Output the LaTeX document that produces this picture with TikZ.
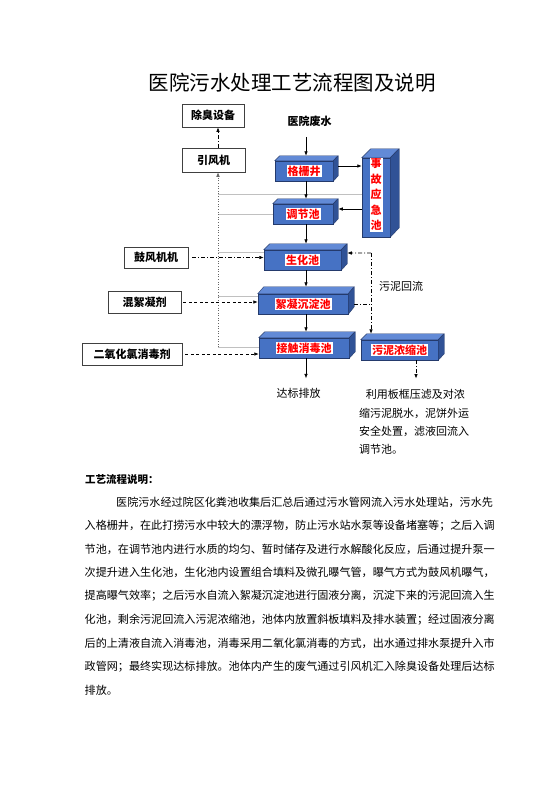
\documentclass[tikz,border=0pt]{standalone}
\usepackage{fontspec}
\setmainfont{Noto Sans CJK SC}
\usetikzlibrary{arrows.meta}
\definecolor{tankblue}{RGB}{70,114,196}
\definecolor{tankhi}{RGB}{98,138,214}
\definecolor{tankdark}{RGB}{48,82,150}
\definecolor{tankline}{RGB}{36,58,108}
\definecolor{ductgray}{RGB}{192,192,192}
\begin{document}
\begin{tikzpicture}[x=1bp,y=-1bp,>={Latex[length=4.5bp,width=3.6bp]},
  every node/.style={font=\fontsize{11bp}{13bp}\selectfont},
  tank/.style={draw=tankline, fill=tankblue, line width=0.5bp, minimum height=20bp, inner sep=0},
  tanktop/.style={draw=tankline, fill=tankhi, line width=0.4bp},
  tankside/.style={draw=tankline, fill=tankdark, line width=0.4bp},
  tanklbl/.style={fill=white, text=red, inner sep=1bp, font=\fontsize{11bp}{13bp}\selectfont\bfseries},
  feed/.style={draw=black!75, fill=white, line width=0.6bp, inner sep=0, font=\fontsize{11bp}{13bp}\selectfont\bfseries},
  para/.style={anchor=west, inner sep=0, font=\fontsize{11.08bp}{13bp}\selectfont},
  flow/.style={->, line width=0.7bp},
  air/.style={->, line width=0.7bp, dash pattern=on 4bp off 2bp on 1bp off 2bp},
  dose/.style={->, line width=0.7bp, dash pattern=on 3bp off 2.5bp},
  gas/.style={draw=ductgray, line width=0.8bp},
  duct/.style={->, draw=black!60, line width=0.6bp, dotted}]

  \path[use as bounding box, fill=white] (0,0) rectangle (560,792);

  % Title
  \node[font=\fontsize{20.5bp}{24bp}\selectfont] (head) at (292,83) {医院污水处理工艺流程图及说明};

  % Treatment tanks (front faces)
  \node[tank, minimum width=58bp, label={[tanklbl]center:格栅井}] (grille) at (304,171) {};
  \node[tank, minimum width=60bp, label={[tanklbl]center:调节池}] (equal) at (303,214) {};
  \node[tank, minimum width=77bp, label={[tanklbl]center:生化池}] (bio) at (302.5,260) {};
  \node[tank, minimum width=90bp, label={[tanklbl]center:絮凝沉淀池}] (floc) at (303,304) {};
  \node[tank, minimum width=90bp, label={[tanklbl]center:接触消毒池}] (disinf) at (304,348) {};
  \node[tank, minimum width=77bp, label={[tanklbl]center:污泥浓缩池}] (sludge) at (399.5,350) {};
  \node[tank, minimum width=28bp, minimum height=79bp,
        label={[tanklbl, align=center, yshift=3bp, font=\fontsize{11bp}{15.5bp}\selectfont\bfseries]center:事\\故\\应\\急\\池}] (emerg) at (376,197.5) {};

  % Top and side faces
  \filldraw[tanktop] (grille.north west) -- ++(5,-5) -- ++(58,0) -- (grille.north east) -- cycle;
  \filldraw[tankside] (grille.north east) -- ++(5,-5) -- ++(0,20) -- (grille.south east) -- cycle;
  \filldraw[tanktop] (equal.north west) -- ++(5,-5) -- ++(60,0) -- (equal.north east) -- cycle;
  \filldraw[tankside] (equal.north east) -- ++(5,-5) -- ++(0,20) -- (equal.south east) -- cycle;
  \filldraw[tanktop] (bio.north west) -- ++(6,-6) -- ++(77,0) -- (bio.north east) -- cycle;
  \filldraw[tankside] (bio.north east) -- ++(6,-6) -- ++(0,20) -- (bio.south east) -- cycle;
  \filldraw[tanktop] (floc.north west) -- ++(6,-7) -- ++(90,0) -- (floc.north east) -- cycle;
  \filldraw[tankside] (floc.north east) -- ++(6,-7) -- ++(0,20) -- (floc.south east) -- cycle;
  \filldraw[tanktop] (disinf.north west) -- ++(6,-6) -- ++(90,0) -- (disinf.north east) -- cycle;
  \filldraw[tankside] (disinf.north east) -- ++(6,-6) -- ++(0,20) -- (disinf.south east) -- cycle;
  \filldraw[tanktop] (sludge.north west) -- ++(6,-6) -- ++(77,0) -- (sludge.north east) -- cycle;
  \filldraw[tankside] (sludge.north east) -- ++(6,-6) -- ++(0,20) -- (sludge.south east) -- cycle;
  \filldraw[tanktop] (emerg.north west) -- ++(9,-9) -- ++(28,0) -- (emerg.north east) -- cycle;
  \filldraw[tankside] (emerg.north east) -- ++(9,-9) -- ++(0,79) -- (emerg.south east) -- cycle;

  % Side inputs and fans
  \node[feed, minimum width=62bp, minimum height=23bp] (odor) at (213,115.5) {除臭设备};
  \node[feed, minimum width=63bp, minimum height=24bp] (fan) at (213.5,160) {引风机};
  \node[feed, minimum width=64bp, minimum height=21bp] (blower) at (156,257.5) {鼓风机机};
  \node[feed, minimum width=73bp, minimum height=22bp] (coag) at (144.5,302) {混絮凝剂};
  \node[feed, minimum width=100bp, minimum height=22bp] (clo2) at (132,354) {二氧化氯消毒剂};

  % Labels
  \node[font=\fontsize{11bp}{13bp}\selectfont\bfseries] (raw) at (309.5,121) {医院废水};
  \node (back) at (401,286) {污泥回流};
  \node (out) at (298.5,393) {达标排放};
  \node[anchor=north west, inner sep=0, align=left, font=\fontsize{11bp}{18.3bp}\selectfont] (cake) at (359,389.5)
    {\hspace*{0.6em}利用板框压滤及对浓\\缩污泥脱水，泥饼外运\\安全处置，滤液回流入\\调节池。};

  \coordinate (axis) at (306,0);
  \coordinate (duct) at (218,347);
  \coordinate (ret) at (371,253);
  \coordinate (grille-top) at ([yshift=5bp]grille.north);
  \coordinate (equal-top) at ([yshift=5bp]equal.north);
  \coordinate (bio-top) at ([yshift=6bp]bio.north);
  \coordinate (floc-top) at ([yshift=7bp]floc.north);
  \coordinate (disinf-top) at ([yshift=6bp]disinf.north);
  \coordinate (sludge-top) at ([yshift=6bp]sludge.north);
  \coordinate (grille-side) at ([xshift=5bp,yshift=5bp]grille.east);
  \coordinate (equal-side) at ([xshift=5bp,yshift=5bp]equal.east);
  \coordinate (bio-back) at ([xshift=6bp,yshift=7bp]bio.east);
  \coordinate (emerg-in) at ([yshift=3.5bp]emerg.west);
  \coordinate (bio-in) at ([yshift=8bp]bio.west);
  \coordinate (floc-in) at ([yshift=8bp]floc.west);
  \coordinate (press) at ([xshift=16.5bp]sludge.south);

  % Waste gas collection
  \draw[gas] (duct |- emerg-in) -- (emerg-in);
  \draw[gas] (duct |- equal.west) -- (equal.west);
  \draw[gas] (duct |- bio-in) -- (bio-in);
  \draw[gas] (duct |- floc-in) -- (floc-in);
  \draw[gas] (duct) -- (duct -| disinf.west);
  \draw[duct] (duct) -- (duct |- fan.south);
  \draw[air] (duct |- fan.north) -- (duct |- odor.south);

  % Main water flow
  \draw[flow, shorten <=7bp] (axis |- raw.south) -- (axis |- grille-top);
  \draw[flow] (axis |- grille.south) -- (axis |- equal-top);
  \draw[flow] (axis |- equal.south) -- (axis |- bio-top);
  \draw[flow] (axis |- bio.south) -- (axis |- floc-top);
  \draw[flow] (axis |- floc.south) -- (axis |- disinf-top);
  \draw[flow, shorten >=6bp] (axis |- disinf.south) -- (axis |- out.north);
  \draw[flow] (grille-side) -- (grille-side -| emerg.west);
  \draw[flow] (equal-side -| emerg.west) -- (equal-side);

  % Dosing and aeration
  \draw[air, shorten <=4bp] (blower.east) -- (blower.east -| bio.west);
  \draw[dose, shorten <=2bp] (coag.east) -- (coag.east -| floc.west);
  \draw[dose, shorten <=3bp] (clo2.east) -- (clo2.east -| disinf.west);

  % Sludge return
  \draw[air, -] ([xshift=6bp]floc.east) -- (ret |- floc.east);
  \draw[air] (ret) -- (bio-back);
  \draw[air] (ret) -- (ret |- sludge-top);
  \draw[air, shorten >=11bp] (press) -- (press |- cake.north);

  % Process description
  \node[anchor=west, inner sep=0, font=\fontsize{10.5bp}{12bp}\selectfont\bfseries] (desc) at (85,480) {工艺流程说明：};
  \node[para] (l1) at (116,502) {医院污水经过院区化粪池收集后汇总后通过污水管网流入污水处理站，污水先};
  \node[para] (l2) at (84.5,525.5) {入格栅井，在此打捞污水中较大的漂浮物，防止污水站水泵等设备堵塞等；之后入调};
  \node[para] (l3) at (84.5,549) {节池，在调节池内进行水质的均匀、暂时储存及进行水解酸化反应，后通过提升泵一};
  \node[para] (l4) at (84.5,572.5) {次提升进入生化池，生化池内设置组合填料及微孔曝气管，曝气方式为鼓风机曝气，};
  \node[para] (l5) at (84.5,596) {提高曝气效率；之后污水自流入絮凝沉淀池进行固液分离，沉淀下来的污泥回流入生};
  \node[para] (l6) at (84.5,619.5) {化池，剩余污泥回流入污泥浓缩池，池体内放置斜板填料及排水装置；经过固液分离};
  \node[para] (l7) at (84.5,643) {后的上清液自流入消毒池，消毒采用二氧化氯消毒的方式，出水通过排水泵提升入市};
  \node[para] (l8) at (84.5,666.5) {政管网；最终实现达标排放。池体内产生的废气通过引风机汇入除臭设备处理后达标};
  \node[para] (l9) at (84.5,690) {排放。};
\end{tikzpicture}
\end{document}
